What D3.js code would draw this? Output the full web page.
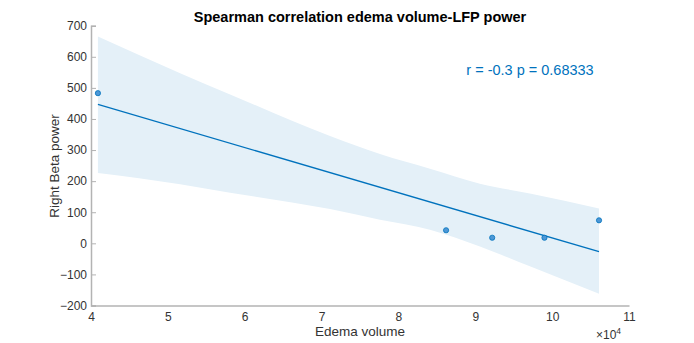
<!DOCTYPE html>
<html>
<head>
<meta charset="utf-8">
<script src="https://cdn.jsdelivr.net/npm/d3@7"></script>
<style>
  body { margin: 0; background: #fff; }
  svg { display: block; font-family: "Liberation Sans", Arial, sans-serif; }
</style>
</head>
<body>
<div id="chart"></div>
<script>
// edema volume in units of 10^4
const edemaVolume = [4.09, 8.62, 9.22, 9.90, 10.61];
const betaPower = [483, 42, 18, 18, 74];

// fitted line end points
const fitX = [4.09, 10.61];
const fitY = [447, -27];

// confidence band
const bandX = [4.09, 5.16, 5.81, 7.11, 7.76, 8.41, 9.06, 9.71, 10.61];
const bandUpper = [665, 547, 479, 345, 287, 240, 192, 160, 112];
const bandLower = [226, 190, 163, 110, 76, 44, -10, -74, -162];

const xTicks = [4, 5, 6, 7, 8, 9, 10, 11];
const yTicks = [-200, -100, 0, 100, 200, 300, 400, 500, 600, 700];

const width = 694, height = 343;
const blue = '#0072bd';
const axisColor = '#b3b3b3';
const textColor = '#333333';

const svg = d3.select('#chart').append('svg')
  .attr('width', width)
  .attr('height', height);

const x = d3.scaleLinear().domain([4, 11]).range([91, 629]);
const y = d3.scaleLinear().domain([-200, 700]).range([305.5, 25.7]);

// band
const bandData = bandX.map((v, i) => ({ x: v, lo: bandLower[i], hi: bandUpper[i] }));
svg.append('path')
  .datum(bandData)
  .attr('fill', '#e4f0f8')
  .attr('d', d3.area()
    .x(d => x(d.x))
    .y0(d => y(d.lo))
    .y1(d => y(d.hi))
    .curve(d3.curveMonotoneX));

// fit line
svg.append('path')
  .datum(fitX.map((v, i) => ({ x: v, y: fitY[i] })))
  .attr('fill', 'none')
  .attr('stroke', blue)
  .attr('stroke-width', 1.3)
  .attr('d', d3.line().x(d => x(d.x)).y(d => y(d.y)));

// points
svg.selectAll('.dot')
  .data(edemaVolume.map((v, i) => ({ x: v, y: betaPower[i] })))
  .enter().append('circle')
  .attr('class', 'dot')
  .attr('cx', d => x(d.x))
  .attr('cy', d => y(d.y))
  .attr('r', 2.6)
  .attr('fill', '#4d97d6')
  .attr('stroke', blue)
  .attr('stroke-width', 0.8);

// axes
const xAxis = svg.append('g')
  .attr('transform', `translate(0,${y(-200)})`)
  .call(d3.axisBottom(x).tickValues(xTicks).tickFormat(d3.format('d')).tickSize(0).tickPadding(7));

const yAxis = svg.append('g')
  .attr('transform', `translate(${x(4)},0)`)
  .call(d3.axisLeft(y).tickValues(yTicks).tickSize(-5).tickPadding(4));

[xAxis, yAxis].forEach(g => {
  g.select('.domain').attr('stroke', axisColor).attr('stroke-width', 1.5);
  g.selectAll('.tick line').attr('stroke', axisColor).attr('stroke-width', 1);
  g.selectAll('.tick text')
    .attr('fill', textColor)
    .style('font-size', '12px')
    .style('font-family', '"Liberation Sans", Arial, sans-serif');
});

// title
svg.append('text')
  .attr('x', 360)
  .attr('y', 22)
  .attr('text-anchor', 'middle')
  .style('font-size', '14.5px')
  .style('font-weight', 'bold')
  .attr('fill', '#000')
  .text('Spearman correlation edema volume-LFP power');

// axis labels
svg.append('text')
  .attr('x', 360)
  .attr('y', 336)
  .attr('text-anchor', 'middle')
  .style('font-size', '13.5px')
  .attr('fill', textColor)
  .text('Edema volume');

svg.append('text')
  .attr('transform', 'translate(59,166) rotate(-90)')
  .attr('text-anchor', 'middle')
  .style('font-size', '13.5px')
  .attr('fill', textColor)
  .text('Right Beta power');

// exponent
const expo = svg.append('text')
  .attr('x', 596)
  .attr('y', 339)
  .style('font-size', '12px')
  .attr('fill', textColor);
expo.append('tspan').text('\u00d710');
expo.append('tspan').attr('dy', -5).style('font-size', '8.5px').text('4');

// annotation
svg.append('text')
  .attr('x', 530)
  .attr('y', 75)
  .attr('text-anchor', 'middle')
  .style('font-size', '14.5px')
  .attr('fill', blue)
  .text('r = -0.3 p = 0.68333');
</script>
</body>
</html>
